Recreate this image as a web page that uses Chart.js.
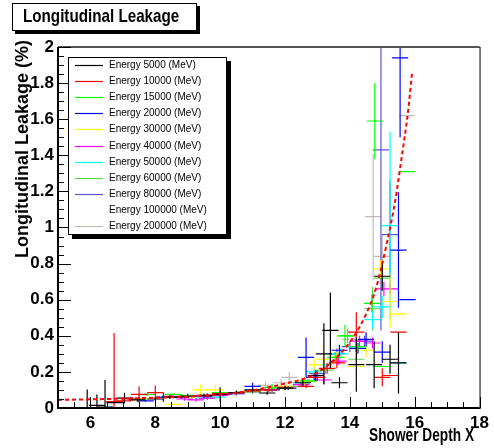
<!DOCTYPE html>
<html>
<head>
<meta charset="utf-8">
<script src="https://cdn.jsdelivr.net/npm/chart.js@4.4.0/dist/chart.umd.min.js"></script>
<style>
  html, body { margin: 0; padding: 0; background: #fff; }
  #wrap { position: relative; width: 494px; height: 448px; }
</style>
</head>
<body>
<div id="wrap"><canvas id="leakChart" width="494" height="448"></canvas></div>
<script>
// Longitudinal leakage vs shower depth, one series per beam energy
const energyLabels = ['Energy 5000 (MeV)', 'Energy 10000 (MeV)', 'Energy 15000 (MeV)', 'Energy 20000 (MeV)',
  'Energy 30000 (MeV)', 'Energy 40000 (MeV)', 'Energy 50000 (MeV)', 'Energy 60000 (MeV)',
  'Energy 80000 (MeV)', 'Energy 100000 (MeV)', 'Energy 200000 (MeV)'];

const e5000X = [5.9, 6.2, 6.45, 6.75, 7.05, 7.45, 8.0, 8.45, 9.0, 9.6, 10.0, 10.5, 11.0, 11.45, 12.0, 12.55, 12.95, 13.2, 13.4, 13.68, 14.2, 14.75, 15.0, 15.24, 15.5];
const e5000Y = [0.002, 0.015, 0.005, 0.03, 0.055, 0.045, 0.05, 0.06, 0.065, 0.07, 0.075, 0.085, 0.1, 0.083, 0.11, 0.14, 0.18, 0.30, 0.43, 0.14, 0.24, 0.24, 0.73, 0.27, 0.25];
const e5000Err = [0.1, 0.06, 0.15, 0.0, 0.03, 0.01, 0.01, 0.01, 0.01, 0.01, 0.04, 0.01, 0.01, 0.01, 0.01, 0.02, 0.03, 0.17, 0.21, 0.03, 0.15, 0.13, 0.08, 0.08, 0.17];

const e10000X = [6.73, 7.0, 7.3, 7.5, 8.0, 8.5, 9.0, 9.5, 10.0, 10.5, 11.0, 11.5, 12.0, 12.65, 13.0, 13.3, 13.6, 14.2, 15.0, 15.25, 15.5];
const e10000Y = [0.035, 0.04, 0.05, 0.075, 0.085, 0.065, 0.065, 0.07, 0.08, 0.085, 0.095, 0.1, 0.115, 0.12, 0.17, 0.22, 0.25, 0.42, 0.17, 0.18, 0.42];
const e10000Err = [0.38, 0.01, 0.01, 0.045, 0.04, 0.01, 0.01, 0.01, 0.01, 0.01, 0.01, 0.01, 0.01, 0.01, 0.02, 0.03, 0.03, 0.11, 0.05, 0, 0];

const e15000X = [7.5, 7.75, 8.55, 9.0, 10.0, 11.0, 11.6, 12.0, 12.7, 13.55, 13.85, 14.25, 14.68, 14.77, 14.97, 15.76];
const e15000Y = [0.05, 0.075, 0.075, 0.07, 0.085, 0.09, 0.115, 0.11, 0.15, 0.28, 0.4, 0.34, 0.58, 1.59, 0.23, 1.31];
const e15000Err = [0.02, 0.01, 0.01, 0.01, 0.01, 0.01, 0.02, 0.01, 0.01, 0.03, 0.06, 0.02, 0.05, 0.21, 0, 0];

const e20000X = [7.7, 8.25, 8.8, 9.5, 10.1, 11.0, 11.6, 12.1, 12.65, 12.9, 13.68, 14.25, 14.5, 15.0, 15.5, 15.55, 15.78];
const e20000Y = [0.04, 0.06, 0.06, 0.065, 0.075, 0.12, 0.1, 0.11, 0.28, 0.17, 0.32, 0.33, 0.38, 0.31, 0.875, 1.94, 0.6];
const e20000Err = [0.005, 0.025, 0.01, 0.01, 0.01, 0.02, 0.01, 0.01, 0.11, 0.02, 0.03, 0.03, 0.04, 0.06, 0.32, 0.44, 0];

const e30000X = [8.55, 9.0, 9.4, 9.85, 10.5, 11.0, 11.5, 12.0, 12.6, 12.9, 13.2, 13.6, 14.2, 14.5, 14.95, 15.24, 15.5];
const e30000Y = [0.02, 0.06, 0.1, 0.1, 0.085, 0.095, 0.1, 0.12, 0.15, 0.24, 0.27, 0.28, 0.23, 0.32, 0.77, 0.59, 0.52];
const e30000Err = [0.005, 0.01, 0.03, 0.03, 0.01, 0.01, 0.01, 0.01, 0.02, 0.03, 0.03, 0.03, 0.02, 0.04, 0.05, 0.15, 0];

const e40000X = [8.9, 9.25, 9.6, 10.0, 10.5, 11.0, 11.5, 12.0, 12.5, 13.2, 13.65, 14.3, 14.7, 15.05, 15.24];
const e40000Y = [0.05, 0.045, 0.055, 0.07, 0.08, 0.09, 0.1, 0.11, 0.13, 0.155, 0.26, 0.37, 0.36, 0.66, 0.66];
const e40000Err = [0.01, 0.01, 0.01, 0.01, 0.01, 0.01, 0.01, 0.01, 0.01, 0.02, 0.02, 0.03, 0.03, 0.04, 0.03];

const e50000X = [9.5, 9.9, 10.5, 11.0, 11.5, 12.0, 12.5, 12.9, 13.2, 13.7, 14.2, 14.7, 15.0, 15.24, 15.5];
const e50000Y = [0.055, 0.06, 0.08, 0.09, 0.1, 0.115, 0.14, 0.2, 0.24, 0.3, 0.34, 0.49, 0.56, 1.01, 0.25];
const e50000Err = [0.01, 0.01, 0.01, 0.01, 0.01, 0.01, 0.01, 0.02, 0.02, 0.03, 0.03, 0.05, 0.06, 0.52, 0];

const e60000X = [9.75, 10.2, 10.75, 11.25, 11.75, 12.25, 12.75, 13.25, 13.93, 14.2, 14.7, 15.0];
const e60000Y = [0.06, 0.08, 0.09, 0.1, 0.11, 0.12, 0.15, 0.21, 0.4, 0.27, 0.55, 0.72];
const e60000Err = [0.01, 0.01, 0.01, 0.01, 0.01, 0.01, 0.01, 0.02, 0.04, 0.03, 0.12, 0.05];

const e80000X = [10.5, 11.0, 11.5, 12.0, 12.5, 13.0, 13.6, 14.0, 14.45, 14.96, 15.24];
const e80000Y = [0.08, 0.09, 0.1, 0.115, 0.14, 0.19, 0.3, 0.34, 0.37, 1.43, 0.96];
const e80000Err = [0.01, 0.01, 0.01, 0.01, 0.015, 0.02, 0.03, 0.03, 0.03, 1.0, 0.3];

const e100000X = [11.0, 12.0, 13.0, 14.0];
const e100000Y = [0.1, 0.12, 0.2, 0.36];
const e100000Err = [0.01, 0.01, 0.02, 0.03];

const e200000X = [11.4, 11.88, 12.13, 12.9, 13.4, 14.0, 14.72, 15.0, 15.76];
const e200000Y = [0.125, 0.14, 0.17, 0.2, 0.27, 0.38, 1.06, 0.84, 1.62];
const e200000Err = [0.02, 0.02, 0.03, 0.03, 0.03, 0.04, 0.35, 0.12, 0];

// fitted leakage curve
const fitX = [5, 6, 7, 8, 9, 10, 11, 12, 12.7, 13.2, 13.6, 14.1, 14.5, 14.8, 15.15, 15.4, 15.6, 15.8, 15.92];
const fitY = [0.045, 0.048, 0.052, 0.057, 0.063, 0.075, 0.098, 0.135, 0.17, 0.22, 0.28, 0.39, 0.52, 0.66, 0.92, 1.15, 1.39, 1.65, 1.86];

const xTicks = [6, 8, 10, 12, 14, 16, 18];
const yTicks = [0, 0.2, 0.4, 0.6, 0.8, 1, 1.2, 1.4, 1.6, 1.8, 2];

const seriesX = [e5000X, e10000X, e15000X, e20000X, e30000X, e40000X, e50000X, e60000X, e80000X, e100000X, e200000X];
const seriesY = [e5000Y, e10000Y, e15000Y, e20000Y, e30000Y, e40000Y, e50000Y, e60000Y, e80000Y, e100000Y, e200000Y];
const seriesErr = [e5000Err, e10000Err, e15000Err, e20000Err, e30000Err, e40000Err, e50000Err, e60000Err, e80000Err, e100000Err, e200000Err];

// ROOT colour indices 1..11
const colors = ['#000000', '#ff0000', '#00ff00', '#0000ff', '#ffff00', '#ff00ff', '#00ffff', '#59d454', '#5954d9', '#ffffff', '#c4bcb4'];

const binHalf = 0.25;
const sans = "'Liberation Sans', Arial, sans-serif";

// turn point + error into line pieces (vertical bar, horizontal bar)
function errorBars(xs, ys, errs) {
  const pts = [];
  xs.forEach((x, i) => {
    pts.push({ x: x, y: ys[i] - errs[i] }, { x: x, y: ys[i] + errs[i] }, { x: x, y: null });
    pts.push({ x: x - binHalf, y: ys[i] }, { x: x + binHalf, y: ys[i] }, { x: x, y: null });
  });
  return pts;
}

const datasets = [{
  label: 'fit',
  data: fitX.map((x, i) => ({ x: x, y: fitY[i] })),
  showLine: true,
  borderColor: '#ff0000',
  borderWidth: 2,
  borderDash: [4, 3],
  pointRadius: 0,
  cubicInterpolationMode: 'monotone'
}];
energyLabels.forEach((lab, i) => {
  datasets.push({
    label: lab,
    data: errorBars(seriesX[i], seriesY[i], seriesErr[i]),
    showLine: true,
    spanGaps: false,
    borderColor: colors[i],
    borderWidth: 1.2,
    pointRadius: 0
  });
});

// condensed text (the original uses a narrow bold face)
function narrowText(ctx, text, x, y, squeeze) {
  ctx.save();
  ctx.translate(x, y);
  ctx.scale(squeeze, 1);
  ctx.fillText(text, 0, 0);
  ctx.restore();
}

// ROOT style frame, inward ticks, title box, legend box, axis titles
const rootStyle = {
  id: 'rootStyle',
  afterDatasetsDraw(chart) {
    const ctx = chart.ctx;
    const a = chart.chartArea;
    const xs = chart.scales.x, ys = chart.scales.y;
    ctx.save();
    ctx.strokeStyle = '#000';
    ctx.lineWidth = 1;
    ctx.strokeRect(a.left + 0.5, a.top + 0.5, a.right - a.left, a.bottom - a.top);
    ctx.strokeStyle = '#555';
    ctx.lineWidth = 2;
    ctx.beginPath(); ctx.moveTo(a.left, a.top); ctx.lineTo(a.right, a.top); ctx.stroke();
    ctx.strokeStyle = '#000';
    ctx.beginPath();
    ctx.moveTo(a.left, a.top); ctx.lineTo(a.left, a.bottom); ctx.lineTo(a.right, a.bottom);
    ctx.stroke();
    ctx.lineWidth = 1;
    ctx.beginPath();
    for (let v = 5; v <= 18.001; v += 0.5) {
      const px = Math.round(xs.getPixelForValue(v)) + 0.5;
      const len = xTicks.includes(Math.round(v * 10) / 10) ? 11 : 6;
      ctx.moveTo(px, a.bottom); ctx.lineTo(px, a.bottom - len);
    }
    for (let v = 0; v <= 2.001; v += 0.05) {
      const py = Math.round(ys.getPixelForValue(v)) + 0.5;
      const major = Math.abs(v * 5 - Math.round(v * 5)) < 1e-6;
      ctx.moveTo(a.left, py); ctx.lineTo(a.left + (major ? 13 : 6), py);
    }
    ctx.stroke();
    ctx.restore();
  },
  afterDraw(chart) {
    const ctx = chart.ctx;
    ctx.save();
    // title box
    ctx.fillStyle = '#000';
    ctx.fillRect(15, 6, 185, 28);
    ctx.fillStyle = '#fff';
    ctx.fillRect(12, 3, 185, 28);
    ctx.strokeStyle = '#000';
    ctx.lineWidth = 1;
    ctx.strokeRect(12.5, 3.5, 184, 27);
    ctx.fillStyle = '#000';
    ctx.font = 'bold 19px ' + sans;
    ctx.textBaseline = 'alphabetic';
    narrowText(ctx, 'Longitudinal Leakage', 23, 22, 0.8);

    // legend box
    ctx.fillStyle = '#000';
    ctx.fillRect(72, 61, 159, 178);
    ctx.fillStyle = '#fff';
    ctx.fillRect(68, 57, 159, 178);
    ctx.strokeRect(68.5, 57.5, 158, 177);
    ctx.font = '10px ' + sans;
    ctx.textBaseline = 'middle';
    chart.data.datasets.slice(1).forEach((ds, i) => {
      const y = Math.round(65 + i * 16.1) + 0.5;
      ctx.strokeStyle = ds.borderColor;
      ctx.lineWidth = 1.2;
      ctx.beginPath(); ctx.moveTo(75, y); ctx.lineTo(103, y); ctx.stroke();
      ctx.fillStyle = '#000';
      ctx.fillText(ds.label, 109, y);
    });

    // axis titles
    ctx.fillStyle = '#000';
    ctx.font = 'bold 18px ' + sans;
    ctx.textBaseline = 'middle';
    ctx.textAlign = 'right';
    ctx.save();
    ctx.translate(23, 40);
    ctx.rotate(-Math.PI / 2);
    ctx.fillText('Longitudinal Leakage (%)', 0, 0);
    ctx.restore();
    ctx.font = 'bold 18px ' + sans;
    ctx.textBaseline = 'alphabetic';
    narrowText(ctx, 'Shower Depth X', 474, 441, 0.76);
    ctx.restore();
  }
};

new Chart(document.getElementById('leakChart'), {
  type: 'scatter',
  data: { datasets: datasets },
  options: {
    responsive: false,
    animation: false,
    devicePixelRatio: 1,
    layout: { padding: { top: 47, right: 12, left: 0, bottom: 0 } },
    plugins: { legend: { display: false }, tooltip: { enabled: false } },
    scales: {
      x: {
        type: 'linear', min: 5, max: 18,
        afterBuildTicks: s => { s.ticks = xTicks.map(v => ({ value: v })); },
        afterFit: s => { s.height = 40; },
        grid: { display: false, drawTicks: false },
        border: { display: false },
        ticks: { color: '#000', padding: 5, maxRotation: 0, autoSkip: false,
          font: { family: sans, size: 17, weight: 'bold' } }
      },
      y: {
        type: 'linear', min: 0, max: 2,
        afterBuildTicks: s => { s.ticks = yTicks.map(v => ({ value: v })); },
        afterFit: s => { s.width = 58; },
        grid: { display: false, drawTicks: false },
        border: { display: false },
        ticks: { color: '#000', padding: 4, autoSkip: false,
          callback: v => String(Math.round(v * 10) / 10),
          font: { family: sans, size: 17, weight: 'bold' } }
      }
    }
  },
  plugins: [rootStyle]
});
</script>
</body>
</html>
